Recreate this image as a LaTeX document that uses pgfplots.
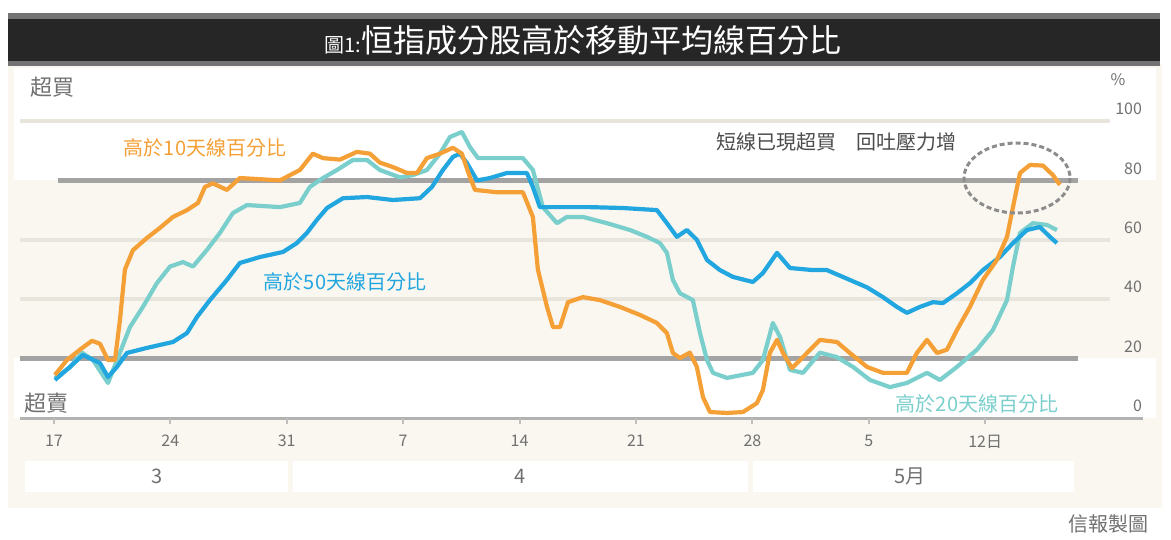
\documentclass[border=0pt]{standalone}
\usepackage{pgfplots}
\pgfplotsset{compat=1.18}
\usepackage{fontspec}
\setmainfont{Noto Sans CJK TC}
\definecolor{c10}{HTML}{F5A036}
\definecolor{c20}{HTML}{7ACFCD}
\definecolor{c50}{HTML}{22A6E0}
\definecolor{cream}{HTML}{FAF7F0}
\definecolor{gridlt}{HTML}{E8E5DD}
\definecolor{thickg}{HTML}{A3A3A3}
\definecolor{txt}{HTML}{707070}
\begin{document}
\begin{tikzpicture}
\begin{scope}[x=0.5pt,y=-0.5pt]
\fill[white] (0,0) rectangle (1171,540);
\fill[cream] (8,64) rectangle (1162,508);
\fill[white] (14,68) rectangle (1156,180);
\fill[white] (14,358) rectangle (1156,418);
\fill[white] (25,461) rectangle (288,492);
\fill[white] (293,461) rectangle (748,492);
\fill[white] (753,461) rectangle (1074,492);
\fill[black!55] (8,13) rectangle (1160,66);
\fill[black!85] (8,19) rectangle (1160,61);
\node[white, inner sep=0pt] at (583,40) {\fontsize{10pt}{10pt}\selectfont 圖1:\fontsize{16pt}{16pt}\selectfont 恒指成分股高於移動平均線百分比};
\draw[gridlt, line width=2pt] (20,121) -- (1110,121);
\draw[gridlt, line width=2pt] (20,239.8) -- (1110,239.8);
\draw[gridlt, line width=2pt] (20,299.2) -- (1110,299.2);
\draw[thickg, line width=2.5pt] (58,180.4) -- (1078,180.4);
\draw[thickg, line width=2.5pt] (20,358.6) -- (1078,358.6);
\draw[black!30, line width=1.5pt] (20,418) -- (1143,418);
\end{scope}
\begin{axis}[at={(10pt,-209pt)}, anchor=south west, scale only axis,
  width=527.5pt, height=148.5pt,
  xmin=-2.04, xmax=61.4, ymin=0, ymax=100,
  axis line style={draw=none},
  xtick={0,7,14,21,28,35,42,49,56},
  xticklabels={17,24,31,7,14,21,28,5,12日},
  xtick pos=bottom, tick align=outside, major tick length=3pt,
  xtick style={draw=black!25, line width=1pt},
  ytick={0,20,40,60,80,100}, yticklabel pos=right,
  ytick style={draw=none},
  ticklabel style={font=\fontsize{8pt}{9pt}\selectfont, text=txt},
  yticklabel style={anchor=east, xshift=34pt, yshift=6pt},
  xticklabel style={anchor=north, yshift=-2pt},
  /pgf/number format/assume math mode=true,
  clip=false]
\addplot[c20, line width=2.1pt, line join=round] coordinates {
(0.06,13.5)(0.96,17)(1.68,22)(2.35,19.5)(3.25,11.8)(3.97,22)(4.57,30.6)(5.35,37.4)(6.19,45.4)(6.98,51)(7.76,52.5)(8.36,51)(9.2,56.6)(9.98,62.3)(10.76,69)(11.61,71.7)(13.59,71)(14.79,72.4)(15.39,77.8)(16.18,80.8)(17.02,83.5)(17.98,86.9)(18.82,86.9)(19.6,83.5)(20.81,81)(21.59,81.8)(22.43,83.5)(23.21,89)(23.81,94.6)(24.53,96.3)(25.02,91.2)(25.5,87.5)(28.2,87.5)(28.8,83.5)(29.4,71)(30.25,65.6)(30.85,67.7)(31.81,67.7)(33.25,65.6)(34.64,63.3)(35.66,61)(36.44,58.9)(36.86,55.6)(37.22,46.5)(37.64,42)(38.42,39.7)(38.85,28.6)(39.27,19.5)(39.63,15.2)(40.47,13.5)(42.03,15.2)(42.63,19.5)(43.23,32)(43.66,27.3)(44.26,16.2)(45.04,15.2)(46.06,22)(47.08,20.5)(48.05,17.2)(49.07,12.8)(50.27,10.4)(51.29,11.8)(52.5,15.2)(53.28,12.8)(54.3,17.2)(55.5,23)(56.46,29.6)(57.31,39.7)(57.67,51)(58.09,62.3)(58.87,65.6)(59.71,65)(60.31,63.3)};
\addplot[c50, line width=2.1pt, line join=round] coordinates {
(0.06,12.8)(0.96,17.2)(1.74,21.2)(2.77,18.5)(3.25,13.8)(3.79,17.2)(4.39,21.9)(5.59,23.6)(7.16,25.6)(8.0,28.6)(8.6,34)(9.38,39.7)(10.4,46.5)(11.18,52.2)(12.39,54.2)(13.77,55.9)(14.61,58.9)(15.21,62.3)(15.81,66.7)(16.42,70.7)(17.38,74)(18.82,74.4)(20.38,73.4)(22.01,74)(22.73,77.8)(23.39,83.5)(23.99,87.9)(24.41,89)(24.83,85.9)(25.44,80)(26.22,80.8)(27.24,82.5)(28.44,82.5)(28.8,77.8)(29.22,71)(30.43,71)(32.23,71)(34.22,70.7)(36.26,70)(36.86,65.6)(37.46,61)(38.06,63.3)(38.66,60)(39.27,53.2)(40.05,49.8)(40.83,47.5)(42.03,45.8)(42.63,48.8)(43.48,55.6)(44.26,50.5)(45.64,49.8)(46.48,49.8)(47.44,47.5)(48.89,44)(49.85,40.7)(50.69,37.4)(51.29,35.4)(52.07,37.4)(52.86,39)(53.46,38.7)(54.3,42)(55.08,45.4)(55.86,49.8)(56.88,54.2)(57.67,58.9)(58.51,63.3)(59.29,64.3)(59.89,61)(60.31,58.9)};
\addplot[c10, line width=2.1pt, line join=round] coordinates {
(0.06,14.5)(0.78,19.5)(1.56,23)(2.29,26)(2.77,25)(3.25,19.5)(3.67,19.5)(3.97,33)(4.27,50)(4.75,56.5)(5.59,60.6)(6.37,64)(7.16,67.7)(8.0,70)(8.66,72.4)(9.08,77.8)(9.56,79)(10.4,76.8)(11.18,80.8)(13.59,80)(14.79,83.5)(15.57,89)(16.18,87.5)(17.2,87)(18.22,89.6)(19.0,89)(19.6,86)(20.38,84.5)(21.23,82.5)(21.83,82.5)(22.43,87.5)(23.21,89)(23.99,91)(24.53,89)(25.02,81)(25.32,76.8)(26.64,76)(28.2,76)(28.8,67.7)(29.1,50)(29.65,37.4)(30.01,30.6)(30.43,30.6)(30.91,39)(31.81,40.7)(32.83,39.7)(34.04,37.4)(35.24,34.7)(36.26,32)(36.86,28.6)(37.22,21.9)(37.64,20.2)(38.24,22)(38.66,17.2)(39.03,7)(39.45,2)(40.47,1.7)(41.43,2)(42.27,5)(42.63,9.4)(43.05,21.9)(43.48,26.3)(43.84,21.9)(44.38,16.8)(44.86,19.5)(46.06,26.3)(47.08,25.6)(47.86,21.9)(48.89,17.2)(49.85,15.2)(51.29,15.2)(51.89,21.9)(52.5,26.3)(53.1,21.9)(53.7,23)(54.3,29.6)(55.08,37.4)(55.86,46.5)(56.7,53.2)(57.31,61)(57.67,71)(58.09,82.5)(58.69,85.2)(59.47,85)(60.07,81.8)(60.49,78.5)};
\end{axis}
\begin{scope}[x=0.5pt,y=-0.5pt]
\draw[black!45, line width=1.5pt, dash pattern=on 2.5pt off 1.5pt] (1017,178) ellipse [x radius=53, y radius=35];
\node[txt, font=\fontsize{11pt}{11pt}\selectfont] at (52,87) {超買};
\node[txt, font=\fontsize{11pt}{11pt}\selectfont] at (47,403) {超賣};
\node[c10, font=\fontsize{10pt}{10pt}\selectfont] at (205,148) {高於10天線百分比};
\node[c50, font=\fontsize{10pt}{10pt}\selectfont] at (345,282) {高於50天線百分比};
\node[c20, font=\fontsize{10pt}{10pt}\selectfont] at (977,404) {高於20天線百分比};
\node[black!70, font=\fontsize{10pt}{10pt}\selectfont] at (836,142) {短線已現超買　回吐壓力增};
\node[txt, font=\fontsize{8pt}{9pt}\selectfont] at (1118,80) {\%};
\node[txt, font=\fontsize{10pt}{10pt}\selectfont] at (157,476) {3};
\node[txt, font=\fontsize{10pt}{10pt}\selectfont] at (520,476) {4};
\node[txt, font=\fontsize{10pt}{10pt}\selectfont] at (910,476) {5月};
\node[txt, font=\fontsize{10pt}{10pt}\selectfont] at (1108,524) {信報製圖};
\end{scope}
\pgfresetboundingbox
\path[use as bounding box] (0,0) rectangle (585.5pt,-270pt);
\end{tikzpicture}
\end{document}
